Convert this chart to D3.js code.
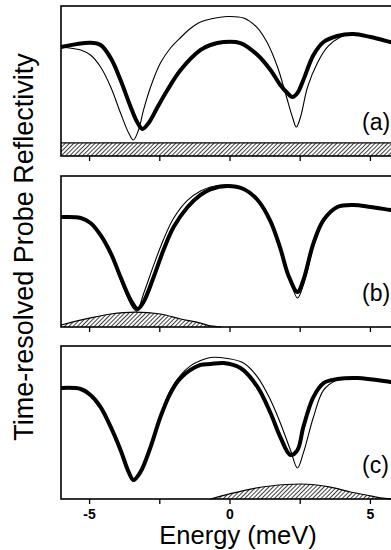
<!DOCTYPE html>
<html>
<head>
<meta charset="utf-8">
<script src="https://cdn.jsdelivr.net/npm/d3@7"></script>
<style>
* { margin: 0; padding: 0; }
body { background: #fff; width: 391px; height: 550px; overflow: hidden; }
svg { display: block; }
text { font-family: "Liberation Sans", Arial, Helvetica, sans-serif; fill: #000; }
</style>
</head>
<body>
<div id="chart"></div>
<script>

// energies in meV, reflectivity in panel units (0 = panel bottom, 1 = panel top)
var aThickE = [ -6, -4.95, -4.59, -4.23, -3.88, -3.52, -3.27, -3.1, -2.88, -2.56, -2.21, -1.74, -1.03, -0.68, -0.21, 0.39, 1, 1.46, 1.81, 2.06, 2.24, 2.42, 2.63, 2.99, 3.35, 3.84, 4.41, 5.02, 5.73, 6 ];
var aThickR = [ 0.727, 0.755, 0.74, 0.653, 0.507, 0.327, 0.22, 0.18, 0.22, 0.327, 0.44, 0.573, 0.707, 0.74, 0.76, 0.753, 0.673, 0.573, 0.473, 0.42, 0.393, 0.42, 0.507, 0.673, 0.76, 0.8, 0.813, 0.793, 0.76, 0.747 ];
var aThinE = [ -6, -5.3, -4.95, -4.59, -4.23, -3.88, -3.59, -3.42, -3.24, -3.06, -2.81, -2.46, -2.1, -1.74, -1.39, -1.03, -0.5, -0.07, 0.5, 1, 1.35, 1.71, 1.99, 2.24, 2.38, 2.53, 2.78, 3.13, 3.49, 3.95, 4.31, 5.02, 5.73, 6 ];
var aThinR = [ 0.727, 0.707, 0.673, 0.593, 0.46, 0.287, 0.153, 0.107, 0.173, 0.307, 0.46, 0.62, 0.72, 0.79, 0.85, 0.893, 0.92, 0.93, 0.92, 0.853, 0.753, 0.593, 0.42, 0.26, 0.193, 0.26, 0.46, 0.62, 0.727, 0.793, 0.813, 0.793, 0.76, 0.747 ];
var aHatchE = [ -6, 6 ];
var aHatchR = [ 0.087, 0.087 ];

var bThickE = [ -6, -5.3, -4.95, -4.59, -4.23, -3.88, -3.52, -3.27, -3.06, -2.7, -2.35, -1.99, -1.49, -1.03, -0.68, -0.07, 0.5, 1, 1.46, 1.81, 2.1, 2.42, 2.63, 2.99, 3.35, 3.84, 4.41, 5.02, 5.73, 6 ];
var bThickR = [ 0.728, 0.722, 0.689, 0.609, 0.49, 0.331, 0.179, 0.119, 0.166, 0.331, 0.51, 0.662, 0.795, 0.875, 0.912, 0.934, 0.914, 0.841, 0.7, 0.52, 0.34, 0.232, 0.311, 0.556, 0.709, 0.795, 0.808, 0.795, 0.775, 0.768 ];
var bThinE = [ -6, -5.3, -4.95, -4.59, -4.23, -3.88, -3.45, -3.3, -3.06, -2.7, -2.35, -1.99, -1.49, -1.03, -0.68, -0.07, 0.5, 1, 1.46, 1.81, 2.1, 2.42, 2.63, 2.99, 3.35, 3.84, 4.41, 5.02, 5.73, 6 ];
var bThinR = [ 0.728, 0.722, 0.689, 0.6, 0.475, 0.31, 0.13, 0.105, 0.22, 0.41, 0.58, 0.72, 0.84, 0.9, 0.927, 0.94, 0.914, 0.841, 0.7, 0.53, 0.35, 0.192, 0.278, 0.53, 0.695, 0.795, 0.808, 0.795, 0.775, 0.768 ];
var bHatchE = [ -6, -4.95, -4.23, -3.35, -2.46, -1.74, -1.03, -0.68, -0.3 ];
var bHatchR = [ 0.013, 0.06, 0.086, 0.099, 0.086, 0.053, 0.026, 0.007, 0 ];

var cThickE = [ -6, -5.3, -4.95, -4.59, -4.23, -3.88, -3.59, -3.42, -3.17, -2.81, -2.46, -2.1, -1.74, -1.03, -0.68, -0.21, 0.39, 1, 1.46, 1.81, 2.17, 2.42, 2.63, 2.99, 3.35, 3.84, 4.56, 5.73, 6 ];
var cThickR = [ 0.725, 0.719, 0.68, 0.601, 0.471, 0.32, 0.176, 0.124, 0.176, 0.34, 0.536, 0.693, 0.791, 0.876, 0.882, 0.889, 0.856, 0.732, 0.562, 0.405, 0.288, 0.32, 0.471, 0.667, 0.758, 0.784, 0.791, 0.765, 0.758 ];
var cThinE = [ -6, -5.3, -4.95, -4.59, -4.23, -3.88, -3.59, -3.42, -3.17, -2.81, -2.46, -2.1, -1.74, -1.39, -1.03, -0.68, -0.07, 0.5, 1, 1.46, 1.81, 2.17, 2.42, 2.63, 2.99, 3.35, 3.84, 4.56, 5.73, 6 ];
var cThinR = [ 0.725, 0.719, 0.68, 0.601, 0.471, 0.32, 0.17, 0.115, 0.17, 0.34, 0.536, 0.712, 0.81, 0.87, 0.905, 0.925, 0.918, 0.889, 0.797, 0.647, 0.497, 0.32, 0.203, 0.301, 0.536, 0.712, 0.778, 0.791, 0.765, 0.758 ];
var cHatchE = [ -0.68, 0, 0.75, 1.46, 2.53, 3.59, 4.31, 5.02, 5.37, 5.8 ];
var cHatchR = [ 0, 0.033, 0.065, 0.085, 0.098, 0.078, 0.046, 0.02, 0.007, 0 ];

var panelLabels = [ '(a)', '(b)', '(c)' ];
var tickValues = [ -5, -2.5, 0, 2.5, 5 ];
var tickLabels = [ '-5', '', '0', '', '5' ];

var panels = [
	{ label: panelLabels[0], top: 6, bottom: 156, thickE: aThickE, thickR: aThickR, thinE: aThinE, thinR: aThinR, hatchE: aHatchE, hatchR: aHatchR },
	{ label: panelLabels[1], top: 176, bottom: 327, thickE: bThickE, thickR: bThickR, thinE: bThinE, thinR: bThinR, hatchE: bHatchE, hatchR: bHatchR },
	{ label: panelLabels[2], top: 346, bottom: 499, thickE: cThickE, thickR: cThickR, thinE: cThinE, thinR: cThinR, hatchE: cHatchE, hatchR: cHatchR }
];

var zip = function ( es, rs ) {
	return es.map( function ( e, i ) { return [ e, rs[i] ]; } );
};

var svg = d3.select( '#chart' ).append( 'svg' )
	.attr( 'width', 391 )
	.attr( 'height', 550 );

svg.append( 'defs' ).append( 'pattern' )
	.attr( 'id', 'hatch' )
	.attr( 'patternUnits', 'userSpaceOnUse' )
	.attr( 'width', 3 )
	.attr( 'height', 3 )
	.attr( 'patternTransform', 'rotate(45)' )
	.append( 'line' )
	.attr( 'x1', 0 ).attr( 'y1', 0 )
	.attr( 'x2', 0 ).attr( 'y2', 3 )
	.attr( 'stroke', '#000' )
	.attr( 'stroke-width', 1.5 );

var x = d3.scaleLinear().domain( [ -6, 6 ] ).range( [ 61, 398 ] );

panels.forEach( function ( p, idx ) {

	var y = d3.scaleLinear().domain( [ 0, 1 ] ).range( [ p.bottom, p.top ] );
	var g = svg.append( 'g' );

	var line = d3.line()
		.x( function ( d ) { return x( d[0] ); } )
		.y( function ( d ) { return y( d[1] ); } )
		.curve( d3.curveCatmullRom );

	var hatchLine = d3.line()
		.x( function ( d ) { return x( d[0] ); } )
		.y( function ( d ) { return y( d[1] ); } )
		.curve( d3.curveMonotoneX );

	var area = d3.area()
		.x( function ( d ) { return x( d[0] ); } )
		.y0( y( 0 ) )
		.y1( function ( d ) { return y( d[1] ); } )
		.curve( d3.curveMonotoneX );

	var hatch = zip( p.hatchE, p.hatchR );

	g.append( 'path' )
		.datum( hatch )
		.attr( 'd', area )
		.attr( 'fill', 'url(#hatch)' );

	g.append( 'path' )
		.datum( hatch )
		.attr( 'd', hatchLine )
		.attr( 'fill', 'none' )
		.attr( 'stroke', '#000' )
		.attr( 'stroke-width', 1.2 );

	g.append( 'path' )
		.datum( zip( p.thinE, p.thinR ) )
		.attr( 'd', line )
		.attr( 'fill', 'none' )
		.attr( 'stroke', '#000' )
		.attr( 'stroke-width', 1.1 );

	g.append( 'path' )
		.datum( zip( p.thickE, p.thickR ) )
		.attr( 'd', line )
		.attr( 'fill', 'none' )
		.attr( 'stroke', '#000' )
		.attr( 'stroke-width', 4 )
		.attr( 'stroke-linejoin', 'round' );

	// frame
	g.append( 'rect' )
		.attr( 'x', x( -6 ) )
		.attr( 'y', p.top )
		.attr( 'width', x( 6 ) - x( -6 ) )
		.attr( 'height', p.bottom - p.top )
		.attr( 'fill', 'none' )
		.attr( 'stroke', '#000' )
		.attr( 'stroke-width', 1.6 );

	var axis = d3.axisBottom( x )
		.tickValues( tickValues )
		.tickSize( 5 )
		.tickFormat( function ( d, i ) { return idx === 2 ? tickLabels[i] : ''; } );

	var ax = g.append( 'g' )
		.attr( 'transform', 'translate(0,' + p.bottom + ')' )
		.call( axis );
	ax.select( '.domain' ).remove();
	ax.selectAll( '.tick line' ).attr( 'stroke', '#000' ).attr( 'stroke-width', 1.3 );
	ax.selectAll( '.tick text' )
		.attr( 'y', 10 )
		.attr( 'dy', '0.71em' )
		.style( 'font-size', '14px' )
		.style( 'font-weight', 'bold' );

	g.append( 'text' )
		.attr( 'x', 362 )
		.attr( 'y', p.bottom - 26 )
		.style( 'font-size', '23px' )
		.text( p.label );
} );

svg.append( 'text' )
	.attr( 'transform', 'translate(33,247) rotate(-90)' )
	.attr( 'text-anchor', 'middle' )
	.style( 'font-size', '27px' )
	.text( 'Time-resolved Probe Reflectivity' );

svg.append( 'text' )
	.attr( 'x', 238 )
	.attr( 'y', 543.5 )
	.attr( 'text-anchor', 'middle' )
	.style( 'font-size', '25.5px' )
	.text( 'Energy (meV)' );

</script>
</body>
</html>
